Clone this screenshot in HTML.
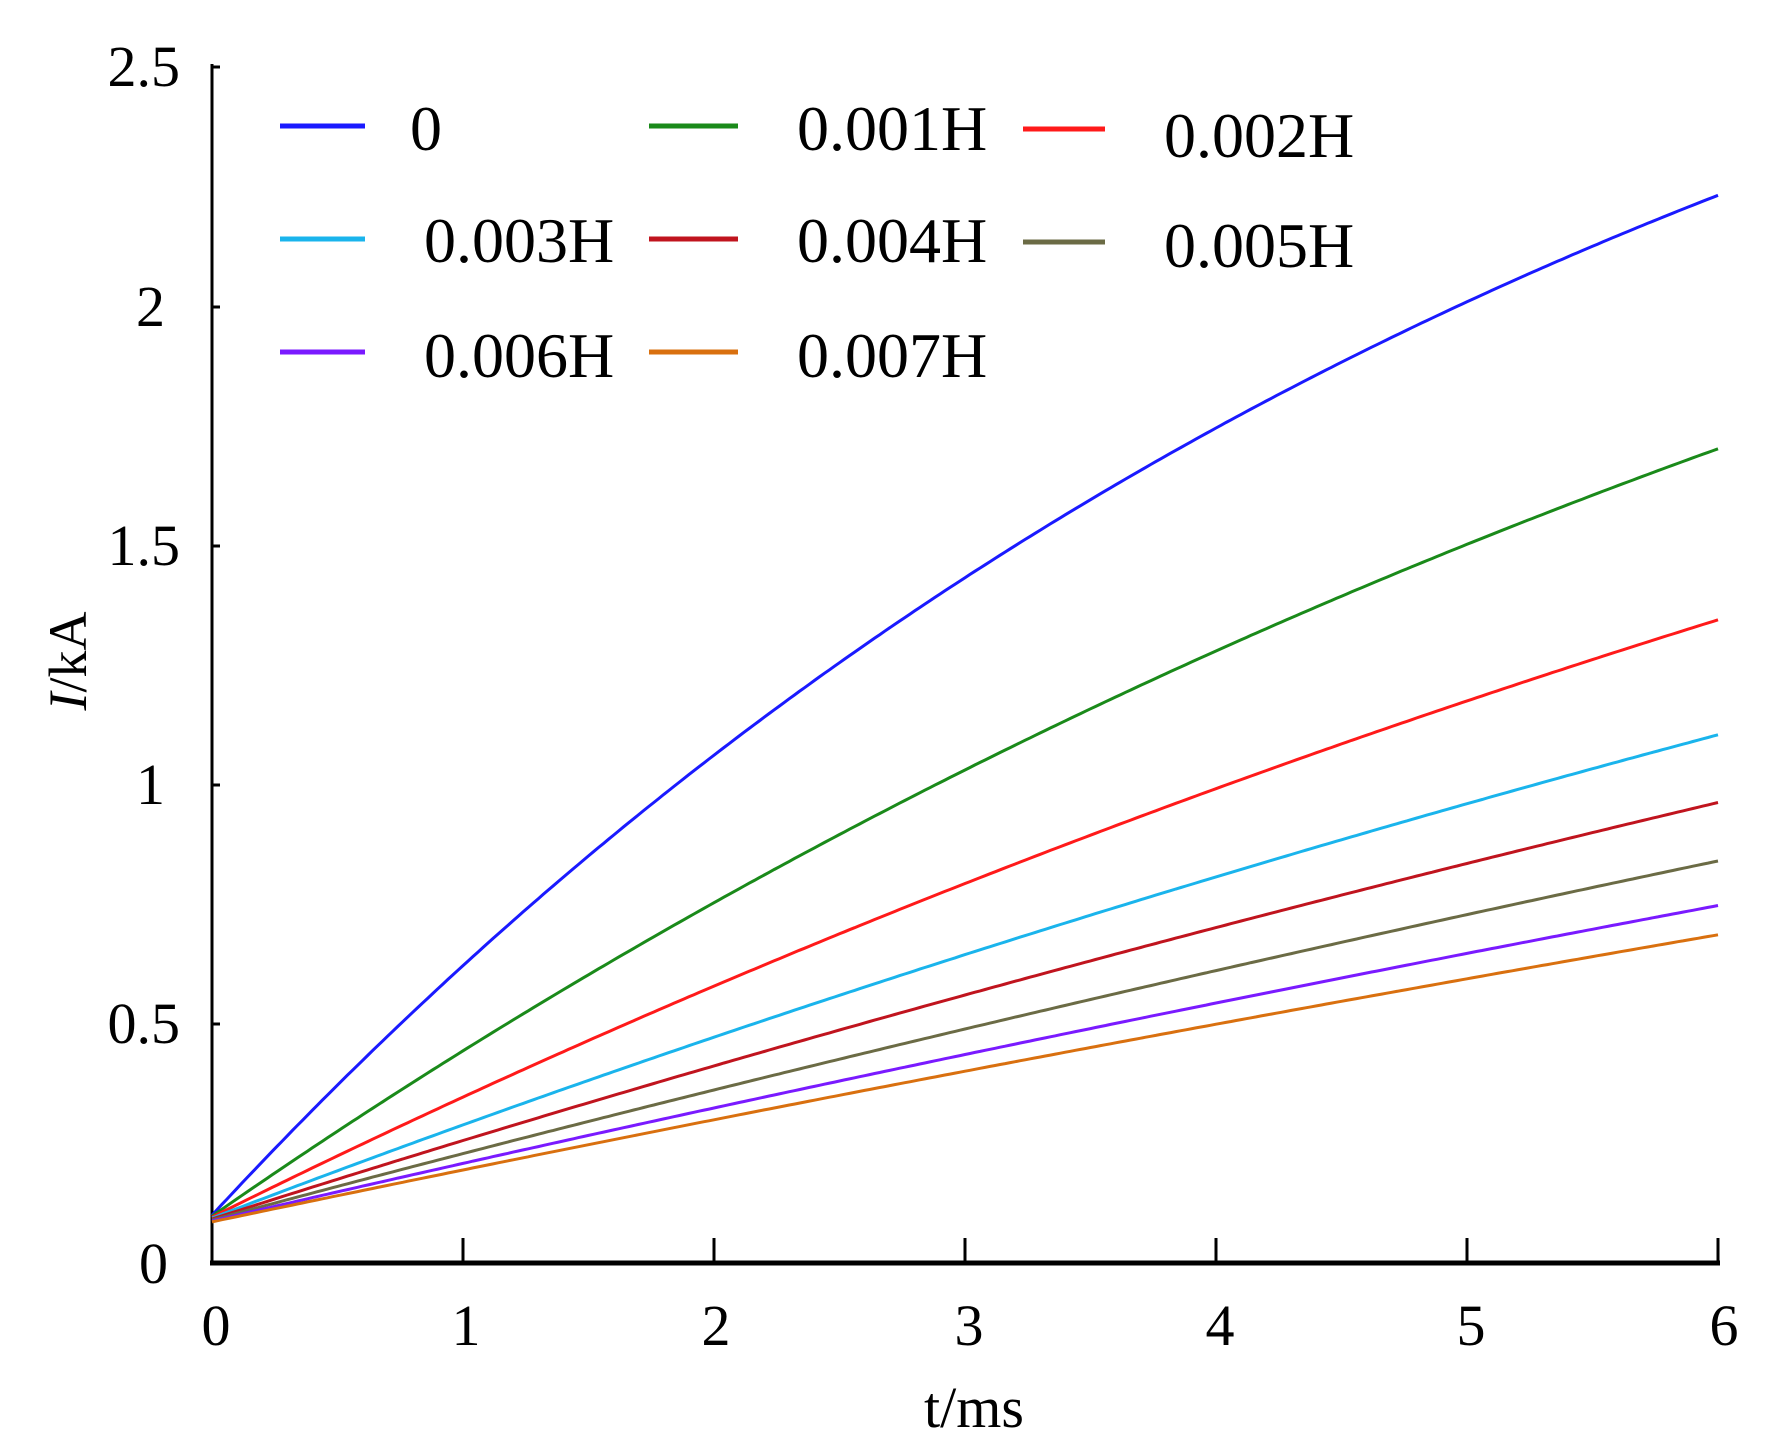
<!DOCTYPE html>
<html><head><meta charset="utf-8"><style>
html,body{margin:0;padding:0;background:#fff;}
svg{display:block;}
text{font-family:"Liberation Serif",serif;fill:#000;}
</style></head><body>
<svg id="s" width="1777" height="1455" viewBox="0 0 1777 1455" xmlns="http://www.w3.org/2000/svg">
<g stroke="#000" stroke-width="3" fill="none">
<line x1="212" y1="64" x2="212" y2="1264"/>
<line x1="210" y1="1263" x2="1720" y2="1263" stroke-width="5"/>
<line x1="212" y1="67" x2="220" y2="67"/>
<line x1="212" y1="307" x2="220" y2="307"/>
<line x1="212" y1="546" x2="220" y2="546"/>
<line x1="212" y1="785" x2="220" y2="785"/>
<line x1="212" y1="1024" x2="220" y2="1024"/>
<line x1="463" y1="1263" x2="463" y2="1238"/>
<line x1="714" y1="1263" x2="714" y2="1238"/>
<line x1="965" y1="1263" x2="965" y2="1238"/>
<line x1="1216" y1="1263" x2="1216" y2="1238"/>
<line x1="1467" y1="1263" x2="1467" y2="1238"/>
<line x1="1718" y1="1263" x2="1718" y2="1238"/>
</g>
<g font-size="58" text-anchor="end">
<text x="180" y="86">2.5</text>
<text x="165" y="326">2</text>
<text x="180" y="565">1.5</text>
<text x="165" y="804">1</text>
<text x="180" y="1043">0.5</text>
<text x="168" y="1283">0</text>
</g>
<g font-size="58" text-anchor="middle">
<text x="216" y="1345">0</text>
<text x="466" y="1345">1</text>
<text x="716" y="1345">2</text>
<text x="969" y="1345">3</text>
<text x="1220" y="1345">4</text>
<text x="1471" y="1345">5</text>
<text x="1724" y="1345">6</text>
<text x="974" y="1427">t/ms</text>
</g>
<text font-family="Liberation Sans" font-size="54" transform="translate(86,661) rotate(-90)" text-anchor="middle"><tspan font-style="italic">I</tspan>/kA</text>
<g id="curves" fill="none" stroke-width="3"></g>
<g stroke-width="5">
<line x1="280" y1="126" x2="365" y2="126" stroke="#1a1aff"/>
<line x1="649" y1="126" x2="738" y2="126" stroke="#1a8a1a"/>
<line x1="1023" y1="129" x2="1105" y2="129" stroke="#ff1a1a"/>
<line x1="280" y1="239" x2="365" y2="239" stroke="#1ab4ec"/>
<line x1="649" y1="239" x2="738" y2="239" stroke="#c0141e"/>
<line x1="1023" y1="242" x2="1105" y2="242" stroke="#6b6b45"/>
<line x1="280" y1="352" x2="365" y2="352" stroke="#7a1aff"/>
<line x1="649" y1="352" x2="738" y2="352" stroke="#d9700f"/>
</g>
<g font-size="64">
<text x="410" y="150">0</text>
<text x="797" y="150">0.001H</text>
<text x="1164" y="157">0.002H</text>
<text x="424" y="262">0.003H</text>
<text x="797" y="262">0.004H</text>
<text x="1164" y="267">0.005H</text>
<text x="424" y="377">0.006H</text>
<text x="797" y="377">0.007H</text>
</g>
</svg>
<script>
var taus=[5.87,9.13,12.77,16.6,19.8,23.5,27.2,30.2];
var cols=["#1a1aff","#1a8a1a","#ff1a1a","#1ab4ec","#c0141e","#6b6b45","#7a1aff","#d9700f"];
var g=document.getElementById("curves");
for(var k=0;k<8;k++){var p=[];for(var i=0;i<=300;i++){var t=6*i/300;var I=0.1-k*0.002+3.33*(1-Math.exp(-t/taus[k]));p.push((212+t*251).toFixed(1)+","+(1263-I*478.4).toFixed(1));}
var e=document.createElementNS("http://www.w3.org/2000/svg","polyline");e.setAttribute("points",p.join(" "));e.setAttribute("stroke",cols[k]);g.appendChild(e);}
</script>
</body></html>
